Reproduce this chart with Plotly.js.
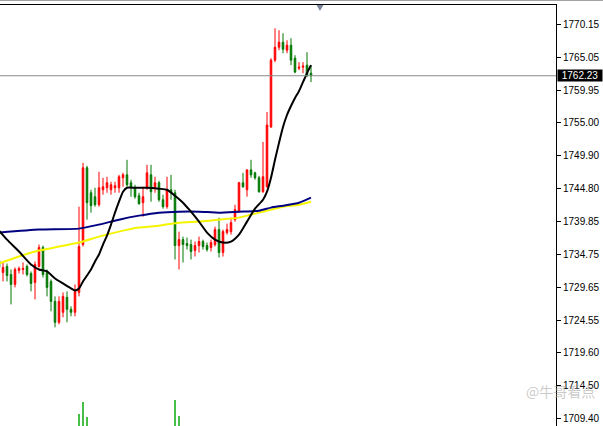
<!DOCTYPE html>
<html><head><meta charset="utf-8">
<script src="https://cdn.plot.ly/plotly-3.0.1.min.js"></script>
<style>html,body{margin:0;padding:0;background:#fff}#chart{width:603px;height:426px}</style>
</head><body><div id="chart"></div>
<script>
// OHLC candles, oldest first (bar index -1 .. 77)
const open = [1733.79,1731.95,1732.87,1731.64,1730.11,1732.26,1732.41,1732.87,1731.80,1730.42,1732.87,
 1735.79,1731.95,1730.57,1727.50,1724.28,1725.82,1728.12,1726.28,1725.82,1728.88,
 1736.25,1748.06,1744.22,1743.61,1742.38,1744.68,1744.99,1744.68,1744.99,1744.99,
 1746.52,1746.98,1745.76,1744.99,1743.76,1742.69,1744.99,1746.98,1744.99,1745.76,
 1743.15,1742.08,1744.68,1744.22,1736.09,1737.01,1736.40,1736.25,1735.33,1736.09,
 1736.71,1736.09,1735.79,1736.25,1738.55,1735.02,1738.09,1738.24,1740.08,1741.31,
 1745.76,1744.68,1747.75,1747.29,1746.52,1744.38,1745.14,1754.35,1764.63,1766.62,
 1767.39,1766.16,1766.93,1764.93,1763.40,1763.55,1763.86,1762.63];
const high = [1734.25,1733.49,1733.33,1732.41,1732.72,1732.87,1733.49,1733.18,1732.11,1733.64,1736.25,
 1736.09,1732.41,1730.88,1728.27,1728.27,1728.88,1729.04,1726.74,1730.11,1742.08,
 1748.83,1748.37,1744.68,1744.99,1747.45,1746.52,1746.68,1745.91,1745.91,1746.98,
 1747.29,1749.29,1746.22,1745.45,1744.22,1745.14,1748.52,1748.52,1746.68,1746.06,
 1743.92,1746.68,1746.98,1744.68,1738.24,1737.47,1737.32,1737.01,1736.71,1737.47,
 1737.01,1736.55,1737.01,1739.01,1740.39,1738.55,1739.47,1740.39,1742.38,1745.91,
 1747.29,1747.75,1749.29,1747.45,1746.83,1752.05,1756.65,1764.93,1769.53,1769.23,
 1768.77,1767.69,1768.00,1765.39,1764.32,1764.32,1765.85,1763.86];
const low = [1732.41,1730.57,1730.57,1727.04,1729.65,1731.80,1731.64,1731.34,1729.04,1727.81,1732.72,
 1731.18,1728.27,1725.97,1723.51,1723.97,1725.05,1724.28,1725.20,1725.20,1728.27,
 1735.94,1740.08,1741.16,1742.08,1742.08,1743.92,1744.22,1743.92,1744.22,1744.22,
 1745.14,1745.14,1743.61,1743.30,1742.38,1740.54,1744.68,1742.84,1744.22,1742.84,
 1741.77,1741.77,1743.15,1733.95,1732.41,1733.49,1735.48,1733.95,1734.41,1735.02,
 1735.48,1735.17,1735.17,1735.94,1734.25,1734.41,1737.78,1737.78,1739.78,1741.16,
 1744.99,1743.61,1746.52,1746.22,1744.22,1744.22,1744.99,1754.19,1764.32,1766.16,
 1765.70,1765.70,1763.86,1762.63,1763.09,1762.63,1762.02,1761.25];
const close = [1732.72,1732.72,1731.49,1730.11,1732.41,1732.57,1732.57,1731.64,1730.26,1733.18,1735.79,
 1731.64,1729.65,1727.50,1724.28,1727.50,1728.27,1726.28,1725.82,1729.04,1735.94,
 1748.06,1742.69,1742.23,1742.38,1744.99,1745.14,1745.76,1745.45,1745.30,1746.68,
 1746.98,1745.45,1744.99,1743.61,1742.54,1743.61,1747.29,1744.38,1745.76,1743.15,
 1742.08,1744.68,1744.22,1736.09,1737.01,1736.25,1736.09,1735.17,1736.09,1736.71,
 1735.94,1735.48,1736.55,1738.55,1735.02,1738.24,1738.55,1739.62,1741.62,1745.76,
 1745.14,1747.75,1746.98,1746.52,1744.38,1746.68,1754.65,1764.63,1766.62,1767.39,
 1766.31,1766.93,1764.63,1762.79,1763.55,1763.71,1762.32,1762.23];

// Moving averages (bar index, price)
const maFastX = [-1,1,4,7,9,11,13,15,17,18,19,20,21,22,23,24,25,26,27,28,29,30,31,33,36,39,41,43,45,47,49,51,53,55,57,59,61,63,65,66,67,68,69,70,71,72,73,74,75,76,77];
const maFast = [1738.39,1737.01,1735.17,1733.18,1732.41,1732.11,1731.03,1730.26,1729.50,1729.19,
 1729.50,1730.57,1731.49,1732.41,1733.64,1734.71,1736.25,1737.63,1739.32,1741.16,
 1742.84,1744.38,1744.99,1744.99,1744.99,1744.84,1744.68,1743.76,1742.69,1741.31,
 1739.78,1738.09,1737.01,1736.55,1736.71,1737.78,1739.78,1741.77,1743.15,1744.38,
 1746.52,1749.29,1751.90,1754.35,1756.19,1757.57,1758.80,1759.87,1761.25,1762.63,1763.86];
const maMidX = [-1,9,19,24,29,34,39,44,49,54,59,64,67,70,74,77];
const maMid = [1738.09,1738.55,1738.70,1739.32,1740.08,1740.70,1741.16,1741.31,1741.31,1741.16,1741.31,1741.46,1741.93,1742.23,1742.69,1743.46];
const maSlowX = [-1,4,9,14,19,24,29,34,39,44,49,54,59,64,67,70,74,77];
const maSlow = [1733.33,1734.41,1735.33,1735.94,1736.55,1737.47,1738.24,1738.86,1739.16,1739.62,1739.78,1740.08,1740.39,1741.16,1741.62,1742.08,1742.38,1742.84];

// Volume spikes visible at the bottom
const volX = [19,20,21,43,44];
const vol = [120,240,90,260,100];

const tickVals = [1770.15,1765.05,1759.95,1755.00,1749.90,1744.80,1739.85,1734.75,1729.65,1724.55,1719.60,1714.50,1709.40];
const tickText = tickVals.map(v => v.toFixed(2));
const lastPrice = 1762.23;
const watermark = '@牛哥看点';

const idx = open.map((_, i) => i - 1);

const traces = [
  {type:'bar', x:volX, y:vol, yaxis:'y2', width:0.45, marker:{color:'#33b833', line:{width:0}}, hoverinfo:'skip'},
  {type:'candlestick', x:idx, open:open, high:high, low:low, close:close,
   increasing:{line:{color:'#ff0000', width:1}, fillcolor:'#ff0000'},
   decreasing:{line:{color:'#007800', width:1}, fillcolor:'#007800'},
   whiskerwidth:0, hoverinfo:'skip'},
  {type:'scatter', mode:'lines', x:maSlowX, y:maSlow, line:{color:'#f5f500', width:2, shape:'spline', smoothing:0.5}, hoverinfo:'skip'},
  {type:'scatter', mode:'lines', x:maMidX, y:maMid, line:{color:'#000080', width:2, shape:'spline', smoothing:0.5}, hoverinfo:'skip'},
  {type:'scatter', mode:'lines', x:maFastX, y:maFast, line:{color:'#000000', width:2, shape:'spline', smoothing:0.6}, hoverinfo:'skip'}
];

const layout = {
  width:603, height:426,
  margin:{l:0, r:47, t:5, b:0, pad:0},
  paper_bgcolor:'#ffffff', plot_bgcolor:'#ffffff',
  showlegend:false,
  boxgap:0.45,
  xaxis:{range:[-0.75,138.25], side:'top', showline:true, linecolor:'#000', linewidth:1,
         showgrid:false, zeroline:false, showticklabels:false, ticks:'',
         rangeslider:{visible:false}, fixedrange:true},
  yaxis:{range:[1708.32,1773.12], side:'right', showline:true, linecolor:'#000', linewidth:1,
         showgrid:false, zeroline:false, ticks:'outside', ticklen:4, tickcolor:'#000', tickwidth:1,
         tickvals:tickVals, ticktext:tickText,
         tickfont:{family:'Liberation Sans, Arial, sans-serif', size:10, color:'#000'}},
  yaxis2:{overlaying:'y', range:[0,4210], visible:false, fixedrange:true},
  shapes:[
    {type:'line', xref:'paper', yref:'y', x0:0, x1:1, y0:lastPrice, y1:lastPrice, line:{color:'#8a8a8a', width:1}},
    {type:'line', xref:'paper', yref:'paper', x0:0, x1:1.0845, y0:1.0107, y1:1.0107, line:{color:'#a0a0a0', width:1}},
    {type:'path', xref:'paper', yref:'paper', path:'M 0.5692 1 L 0.5818 1 L 0.5755 0.986 Z', fillcolor:'#7a8899', line:{width:0}}
  ],
  annotations:[
    {xref:'paper', yref:'y', x:1, y:lastPrice, xanchor:'left', yanchor:'middle', xshift:1,
     text:lastPrice.toFixed(2), showarrow:false, bgcolor:'#000', width:44, height:11, borderpad:0,
     font:{family:'Liberation Sans, Arial, sans-serif', size:10, color:'#fff'}},
    {xref:'paper', yref:'paper', x:0.9424, y:0.083, xanchor:'left', yanchor:'middle',
     text:watermark, showarrow:false,
     font:{family:'Noto Sans CJK SC, sans-serif', size:14, color:'rgba(150,150,150,0.5)'}}
  ]
};

Plotly.newPlot('chart', traces, layout, {staticPlot:true, displayModeBar:false});
</script></body></html>
